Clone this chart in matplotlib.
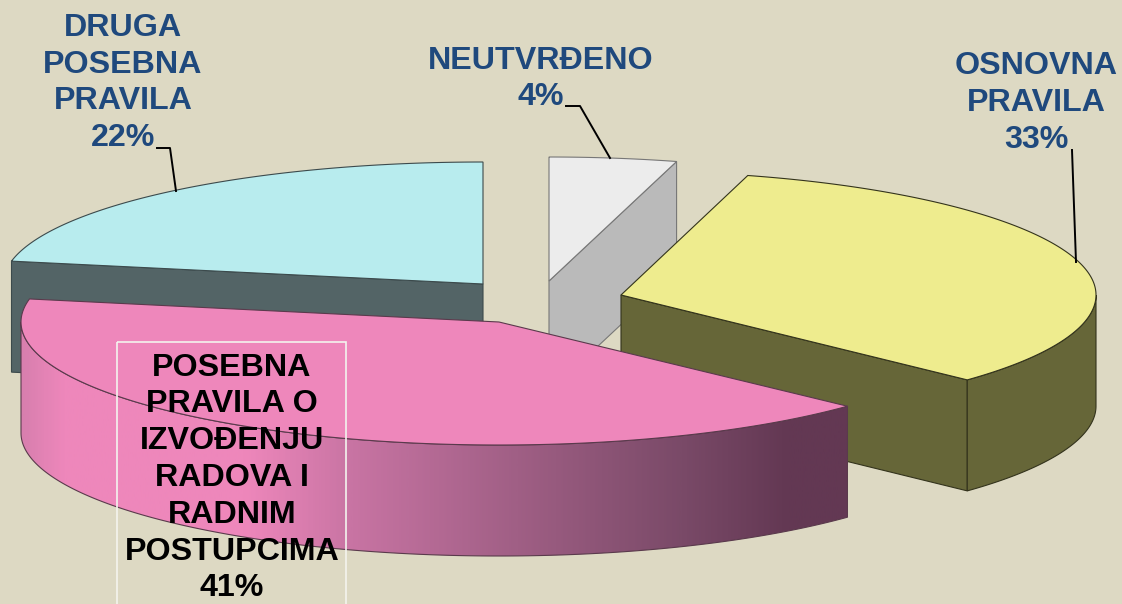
import numpy as np
import matplotlib.pyplot as plt
from matplotlib.colors import LinearSegmentedColormap
from matplotlib.patches import Polygon, Rectangle
plt.rcParams['font.family'] = ['Liberation Sans', 'DejaVu Sans']

# order is clockwise from 12 o'clock
names = ["NEUTVRĐENO", "OSNOVNA\nPRAVILA", "POSEBNA\nPRAVILA O\nIZVOĐENJU\nRADOVA I\nRADNIM\nPOSTUPCIMA", "DRUGA\nPOSEBNA\nPRAVILA"]
values = [4.3, 32.7, 41.0, 22.0]

# exploded slice centres and label places, in image pixels
centers = [(549, 281), (621, 295), (499, 322), (483, 284)]
label_xy = [(541, 79), (1036, 103), (232, 478), (123, 83)]
label_col = ['#1f497d', '#1f497d', 'black', '#1f497d']
top_col = ['#ececec', '#eeec8e', '#ee87bb', '#b8ecee']
side_col = ['#bababa', '#666638', None, '#536466']
edge_col = ['#777777', '#33331c', '#5a3a4c', '#3c4a4c']

leader_x = [[566, 580, 610], [1072, 1076], None, [157, 170, 176]]
leader_y = [[106, 106, 158], [150, 262], None, [148, 148, 191]]

rx = [478, 475, 478, 480]
ry = [124, 124, 123, 122]
depth = 111

pink_grad = LinearSegmentedColormap.from_list("pink", [
    (0.0, '#d87fae'), (0.05, '#ee87bb'), (0.27, '#ee87bb'), (0.40, '#c874a3'),
    (0.60, '#a05f85'), (0.80, '#7a4a68'), (0.93, '#633853'), (1.0, '#633853')])

fig = plt.figure(figsize=(11.22, 6.04), dpi=100, facecolor='#ddd9c3')
ax = fig.add_axes([0, 0, 1, 1])
ax.set_xlim(0, 1122)
ax.set_ylim(604, 0)
ax.axis('off')


def arc(i, t0, t1):
    t = np.radians(np.linspace(t0, t1, 200))
    return centers[i][0] + rx[i]*np.cos(t), centers[i][1] - ry[i]*np.sin(t)


def wall(xs, ys, color, edge, z):
    xy = np.r_[np.c_[xs, ys], np.c_[xs, ys + depth][::-1]]
    p = Polygon(xy, closed=True, fc=color if color else 'none', ec=edge, lw=0.8, zorder=z)
    ax.add_patch(p)
    return p


starts = 90 - 3.6*np.r_[0, np.cumsum(values)[:-1]]
ends = 90 - 3.6*np.cumsum(values)

# back slices first, pink one goes on top of everything
for z, i in enumerate([0, 3, 1, 2]):
    c = centers[i]
    z = (z + 1)*10
    ax_, ay_ = arc(i, starts[i], ends[i])
    # cut faces that look towards the viewer
    if i == 0:
        wall(np.r_[c[0], ax_[-1]], np.r_[c[1], ay_[-1]], side_col[i], edge_col[i], z)
    if i == 1:
        wall(np.r_[c[0], ax_[-1]], np.r_[c[1], ay_[-1]], side_col[i], edge_col[i], z)
        fx, fy = arc(i, 0, ends[i])
        wall(fx, fy, side_col[i], edge_col[i], z)
    if i == 3:
        wall(np.r_[c[0], ax_[0]], np.r_[c[1], ay_[0]], side_col[i], edge_col[i], z)
    if i == 2:
        fx, fy = arc(i, ends[i] + 10.8, starts[i])
        clip = wall(fx, fy, None, edge_col[i], z + 1)
        grad = np.linspace(0, 1, 400).reshape(1, -1)
        im = ax.imshow(grad, cmap=pink_grad, extent=[fx[0], fx[-1], 604, 0], aspect='auto', zorder=z)
        im.set_clip_path(clip)
    ax.add_patch(Polygon(np.r_[[c], np.c_[ax_, ay_]], closed=True, fc=top_col[i], ec=edge_col[i], lw=0.8, zorder=z + 2))

ax.set_xlim(0, 1122)
ax.set_ylim(604, 0)

for i in range(4):
    ax.text(label_xy[i][0], label_xy[i][1], names[i] + "\n" + "%d%%" % round(values[i]),
            ha='center', va='center', fontsize=23.2, fontweight='bold', color=label_col[i],
            linespacing=1.295, zorder=60)
    if leader_x[i]:
        ax.plot(leader_x[i], leader_y[i], color='black', lw=1.4, zorder=55)

# white frame around the selected label
ax.add_patch(Rectangle((117, 342), 229, 280, fc='none', ec='#f4f4ee', lw=1.2, zorder=50))

fig.savefig("out.png", dpi=100, facecolor=fig.get_facecolor())
